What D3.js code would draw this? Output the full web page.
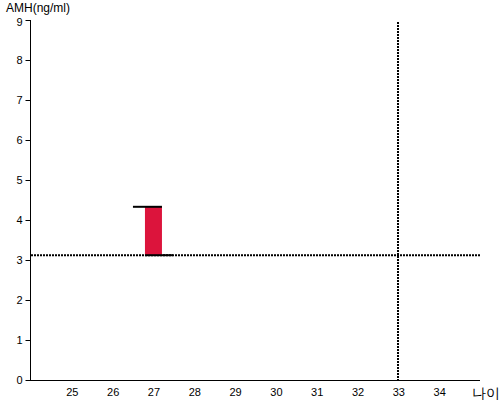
<!DOCTYPE html>
<html><head><meta charset="utf-8">
<script src="https://cdn.jsdelivr.net/npm/d3@7"></script>
<style>body{margin:0;background:#fff}svg{display:block}text{font-family:Arial,"Liberation Sans",sans-serif}</style>
</head><body><svg id="c" width="500" height="400"></svg>
<script>
const xTicks = [25,26,27,28,29,30,31,32,33,34];
const yTicks = [0,1,2,3,4,5,6,7,8,9];
const barAges = [27];
const barLow = [3.12];
const barHigh = [4.33];
const refAge = [33];
const refAmh = [3.12];
const yTitle = "AMH(ng/ml)";
const xTitle = "나이";

const svg = d3.select("#c");
const x = d3.scaleLinear().domain([24,35]).range([31,480]);
const y = d3.scaleLinear().domain([0,9]).range([380,20]);

// y axis
const ya = svg.append("g").attr("transform","translate(30.5,0)")
  .call(d3.axisLeft(y).tickValues(yTicks).tickSize(5).tickPadding(3).tickFormat(d3.format("d")));
ya.select(".domain").attr("d","M0,20V380.5").attr("stroke","#000");
ya.selectAll(".tick line").attr("stroke","#000");
ya.selectAll(".tick text").attr("font-size",11).attr("fill","#000").attr("font-family","Arial,'Liberation Sans',sans-serif")
  .attr("dy", d => d === 9 ? "0.5em" : "0.32em");

// x axis
const xa = svg.append("g").attr("transform","translate(0,380.5)")
  .call(d3.axisBottom(x).tickValues(xTicks).tickSize(0).tickPadding(8).tickFormat(d3.format("d")));
xa.select(".domain").attr("d","M30,0H480").attr("stroke","#000");
xa.selectAll(".tick text").attr("font-size",11).attr("fill","#000").attr("font-family","Arial,'Liberation Sans',sans-serif");

// titles
svg.append("text").attr("x",6).attr("y",12).attr("font-size",12).attr("fill","#000").text(yTitle);
svg.append("text").attr("x",472).attr("y",398).attr("font-size",14).attr("fill","#000")
  .attr("font-family","'Noto Sans CJK KR',sans-serif").text(xTitle);

// reference dotted lines
refAmh.forEach(v=>{
  svg.append("line").attr("x1",31).attr("x2",480).attr("y1",y(v)).attr("y2",y(v))
    .attr("stroke","#000").attr("stroke-width",2).attr("stroke-dasharray","2,1");
});
refAge.forEach(v=>{
  svg.append("line").attr("x1",Math.round(x(v))).attr("x2",Math.round(x(v))).attr("y1",22).attr("y2",380)
    .attr("stroke","#000").attr("stroke-width",2).attr("stroke-dasharray","2,1");
});

// bars
const bw = 17;
barAges.forEach((a,i)=>{
  const cx = x(a);
  svg.append("rect").attr("x",cx-bw/2).attr("width",bw)
    .attr("y",y(barHigh[i])).attr("height",y(barLow[i])-y(barHigh[i])).attr("fill","#DC143C");
  svg.append("line").attr("x1",cx-bw/2-12).attr("x2",cx+bw/2)
    .attr("y1",y(barHigh[i])).attr("y2",y(barHigh[i])).attr("stroke","#000").attr("stroke-width",2);
  svg.append("line").attr("x1",cx-bw/2).attr("x2",cx+bw/2+11)
    .attr("y1",y(barLow[i])).attr("y2",y(barLow[i])).attr("stroke","#000").attr("stroke-width",2);
});
</script></body></html>
